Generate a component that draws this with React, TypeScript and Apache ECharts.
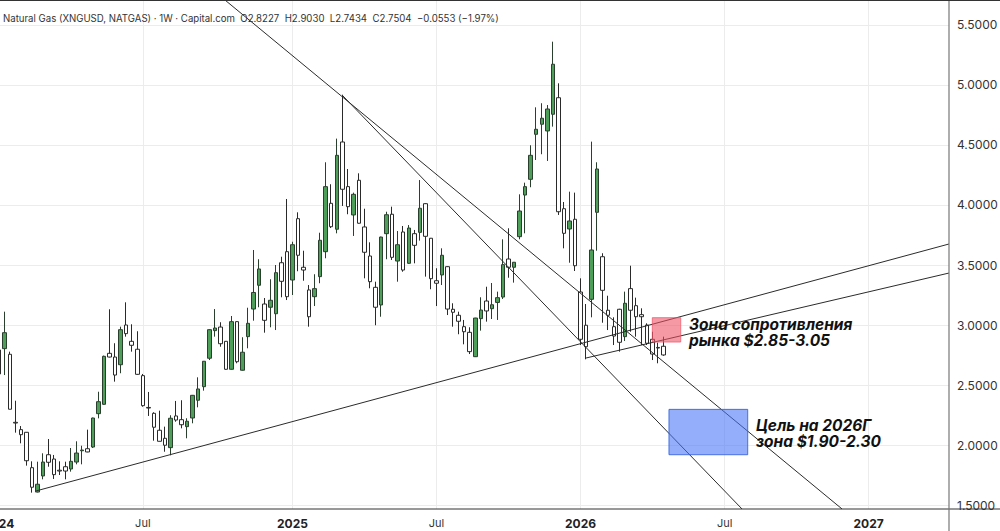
import React, { useEffect, useRef } from "react";
import * as echarts from "echarts";

const weekCount = 172;
const axisTickLabels: Record<number, string> = { 0: "2024", 26: "Jul", 53: "2025", 79: "Jul", 105: "2026", 131: "Jul", 157: "2027" };
const priceTicks = [1.5, 2, 2.5, 3, 3.5, 4, 4.5, 5, 5.5];
const headerText = "Natural Gas (XNGUSD, NATGAS) · 1W · Capital.com\u00A0\u00A0O2.8227\u00A0\u00A0H2.9030\u00A0\u00A0L2.7434\u00A0\u00A0C2.7504\u00A0\u00A0−0.0553 (−1.97%)";

const opens = [2.792,2.803,2.756,2.189,2.128,2.106,1.811,1.608,1.742,1.919,1.883,1.79,1.819,1.8,1.858,1.952,1.969,1.983,2.261,2.339,2.764,2.733,2.669,3.0,2.864,2.798,2.578,2.313,2.264,2.123,2.056,1.978,2.242,2.211,2.153,2.225,2.373,2.486,2.723,2.953,2.983,2.864,2.631,3.028,2.623,2.903,3.133,3.331,3.175,3.148,3.094,3.519,3.611,3.375,3.886,3.481,3.292,3.236,3.403,3.611,4.014,3.798,4.525,4.153,3.917,4.206,3.817,3.575,3.314,3.167,3.761,3.923,3.533,3.775,3.514,3.761,3.772,4.011,3.723,3.369,3.417,3.486,3.131,3.081,2.986,2.939,2.736,3.053,3.2,3.136,3.188,3.233,3.55,3.481,3.736,4.083,4.214,4.589,4.673,4.617,4.756,4.894,3.969,3.8,3.881,3.275,2.998,3.214,3.939,3.569,3.123,2.986,3.131,2.903,3.303,3.161,3.086,3.0,2.881,2.813,2.8227];
const closes = [2.592,2.936,2.298,2.183,2.086,1.869,1.648,1.673,1.858,1.856,1.753,1.783,1.783,1.864,1.933,1.958,1.942,2.225,2.361,2.739,2.733,2.583,2.961,2.928,2.831,2.589,2.328,2.308,2.148,2.031,1.998,2.223,2.208,2.169,2.198,2.414,2.467,2.698,2.961,2.975,2.844,2.631,3.028,2.694,2.773,3.014,3.271,3.467,3.039,3.206,3.436,3.364,3.236,3.669,3.581,3.458,3.069,3.303,3.706,4.153,3.819,4.414,4.131,3.986,4.089,3.848,3.606,3.361,3.148,3.733,3.919,3.564,3.669,3.458,3.808,3.664,3.973,3.739,3.386,3.348,3.581,3.133,3.106,3.031,2.944,2.778,3.058,3.125,3.117,3.169,3.228,3.503,3.481,3.523,3.95,4.153,4.414,4.631,4.723,4.8,5.173,3.944,3.764,3.867,3.494,2.881,2.819,3.625,4.3,3.289,3.081,2.908,2.856,3.181,3.123,3.069,3.069,2.848,2.758,2.808,2.7504];
const lows = [2.583,2.583,2.298,2.103,2.014,1.828,1.603,1.605,1.714,1.819,1.717,1.75,1.714,1.778,1.839,1.839,1.94,1.975,2.222,2.335,2.73,2.528,2.598,2.903,2.778,2.585,2.319,2.242,2.036,2.03,1.944,1.914,2.194,2.139,2.056,2.181,2.314,2.453,2.708,2.903,2.819,2.628,2.628,2.681,2.62,2.806,3.036,3.148,2.936,2.981,2.958,3.231,3.208,3.25,3.448,3.369,2.986,3.158,3.348,3.556,3.808,3.764,3.992,3.923,3.742,3.845,3.389,3.306,2.998,3.069,3.548,3.542,3.361,3.444,3.51,3.514,3.703,3.403,3.298,3.158,3.333,3.083,2.986,2.923,2.839,2.758,2.733,2.953,3.028,3.05,3.042,3.217,3.394,3.353,3.714,3.764,4.148,4.375,4.423,4.367,4.653,3.917,3.639,3.519,3.45,2.833,2.714,3.064,3.619,3.019,2.958,2.833,2.778,2.867,2.944,2.903,2.833,2.833,2.708,2.681,2.7434];
const highs = [2.8,3.111,2.778,2.369,2.158,2.108,1.864,1.861,1.931,2.05,1.917,1.864,1.861,1.975,2.031,1.994,2.128,2.228,2.444,2.745,3.131,2.848,2.986,3.189,3.006,2.948,2.592,2.442,2.273,2.286,2.153,2.248,2.367,2.373,2.223,2.417,2.564,2.7,2.965,3.133,3.023,2.866,3.075,3.03,2.898,3.144,3.625,3.548,3.225,3.381,3.5,3.569,4.05,3.694,3.939,3.619,3.333,3.423,3.769,4.356,4.173,4.553,4.919,4.3,4.103,4.264,3.969,3.689,3.361,3.736,3.944,3.986,3.783,3.825,3.833,3.792,4.208,4.015,3.725,3.473,3.639,3.49,3.181,3.111,3.042,2.981,3.06,3.231,3.319,3.35,3.278,3.714,3.806,3.525,4.089,4.186,4.498,4.814,4.848,4.833,5.361,5.014,4.025,4.111,4.103,3.389,3.175,4.528,4.356,3.598,3.244,3.064,3.135,3.278,3.494,3.228,3.139,3.014,2.944,2.853,2.903];

// Trend lines: [week index, price] end points
const trendRisingUpper = [[6.72, 1.617], [171.5, 3.675]];
const trendRisingLower = [[105.99, 2.725], [171.5, 3.433]];
const trendFallingUpper = [[40.83, 5.708], [152.19, 1.467]];
const trendFallingLower = [[61.95, 4.917], [134.14, 1.467]];

// Zones: [week start, week end, price low, price high]
const resistanceZone = [117.95, 123.08, 2.858, 3.061];
const targetZone = [120.96, 135.17, 1.919, 2.297];

const font = "Inter, 'Noto Sans', sans-serif";

function buildCategories(): string[] {
  const out: string[] = [];
  const start = Date.UTC(2024, 0, 1);
  for (let i = 0; i < weekCount; i++) {
    out.push(new Date(start + i * 7 * 86400000).toISOString().slice(0, 10));
  }
  return out;
}

export default function App() {
  const ref = useRef<HTMLDivElement>(null);
  useEffect(() => {
    document.body.style.margin = "0";
    document.body.style.overflow = "hidden";
    const chart = echarts.init(ref.current!, undefined, { renderer: "svg" });
    const isLabelled = (i: number) => axisTickLabels[i] !== undefined;
    const zoneSeries = (zone: number[], fill: string, stroke: string) => ({
      type: "custom",
      xAxisIndex: 1,
      yAxisIndex: 0,
      z: 6,
      silent: true,
      encode: { x: [0, 1], y: [2, 3] },
      data: [zone],
      renderItem: (_p: any, api: any) => {
        const a = api.coord([api.value(0), api.value(3)]);
        const b = api.coord([api.value(1), api.value(2)]);
        return {
          type: "rect",
          shape: { x: a[0], y: a[1], width: b[0] - a[0], height: b[1] - a[1] },
          style: { fill, stroke, lineWidth: 1 },
        };
      },
    });
    const trend = (data: number[][]) => ({
      type: "line",
      xAxisIndex: 1,
      yAxisIndex: 0,
      data,
      symbol: "none",
      z: 5,
      silent: true,
      lineStyle: { color: "#2b2b2b", width: 1 },
    });
    const noteStyle = { fontFamily: font, fontWeight: 700, fontStyle: "italic", fontSize: 15.5, lineHeight: 16, fill: "#111" };
    chart.setOption({
      animation: false,
      backgroundColor: "#ffffff",
      title: {
        text: headerText,
        left: -2,
        top: 8,
        textStyle: { fontFamily: font, fontSize: 9.63, fontWeight: 400, color: "#333" },
      },
      grid: { left: -4, top: 0, width: 953, height: 509, outerBoundsMode: "none", containLabel: false },
      xAxis: [
        {
          type: "category",
          data: buildCategories(),
          boundaryGap: true,
          axisLine: { show: false },
          axisTick: { show: false },
          axisLabel: {
            interval: (i: number) => isLabelled(i),
            margin: 8,
            formatter: (_v: string, i: number) => {
              const t = axisTickLabels[i];
              if (!t) return "";
              return /^\d+$/.test(t) ? `{y|${t}}` : `{m|${t}}`;
            },
            rich: {
              y: { fontFamily: font, fontSize: 12, fontWeight: 700, color: "#222" },
              m: { fontFamily: font, fontSize: 11, fontWeight: 400, color: "#333" },
            },
          },
          splitLine: {
            show: true,
            interval: (i: number) => isLabelled(i),
            alignWithLabel: true,
            lineStyle: { color: "#ececec", width: 1 },
          },
        },
        { type: "value", min: -0.5, max: 171.5, show: false, splitLine: { show: false } },
      ],
      yAxis: {
        type: "value",
        position: "right",
        min: 1.4667,
        max: 5.7083,
        axisLine: { show: false },
        axisTick: { show: false, customValues: priceTicks },
        axisLabel: {
          customValues: priceTicks,
          margin: 8,
          fontFamily: font,
          fontSize: 12,
          color: "#333",
          formatter: (v: number) => v.toFixed(4),
        },
        splitLine: { show: true, lineStyle: { color: "#ececec", width: 1 } },
      },
      series: [
        {
          type: "candlestick",
          xAxisIndex: 0,
          yAxisIndex: 0,
          barWidth: 4,
          z: 3,
          silent: true,
          itemStyle: {
            color: "#4c9e58",
            color0: "#ffffff",
            borderColor: "#2a3f2d",
            borderColor0: "#2a2a2a",
            borderWidth: 1,
          },
          data: opens.map((o, i) => [o, closes[i], lows[i], highs[i]]),
        },
        trend(trendRisingUpper),
        trend(trendRisingLower),
        trend(trendFallingUpper),
        trend(trendFallingLower),
        zoneSeries(resistanceZone, "rgba(238,80,100,0.58)", "rgba(238,80,100,0.7)"),
        zoneSeries(targetZone, "rgba(70,115,250,0.58)", "rgba(50,95,220,0.85)"),
      ],
      graphic: [
        { type: "line", z: 20, silent: true, shape: { x1: 0, y1: 509, x2: 1000, y2: 509 }, style: { stroke: "#333", lineWidth: 1 } },
        { type: "line", z: 20, silent: true, shape: { x1: 949, y1: 0, x2: 949, y2: 531 }, style: { stroke: "#777", lineWidth: 1.2 } },
        { type: "line", z: 20, silent: true, shape: { x1: 0, y1: 0.5, x2: 1000, y2: 0.5 }, style: { stroke: "#333", lineWidth: 1 } },
        { type: "text", z: 21, silent: true, x: 689, y: 316, style: { text: "Зона сопротивления\nрынка $2.85-3.05", ...noteStyle } },
        { type: "text", z: 21, silent: true, x: 756, y: 417, style: { text: "Цель на 2026Г\nзона $1.90-2.30", ...noteStyle } },
      ],
    });
    return () => chart.dispose();
  }, []);
  return <div ref={ref} style={{ width: 1000, height: 531 }} />;
}
